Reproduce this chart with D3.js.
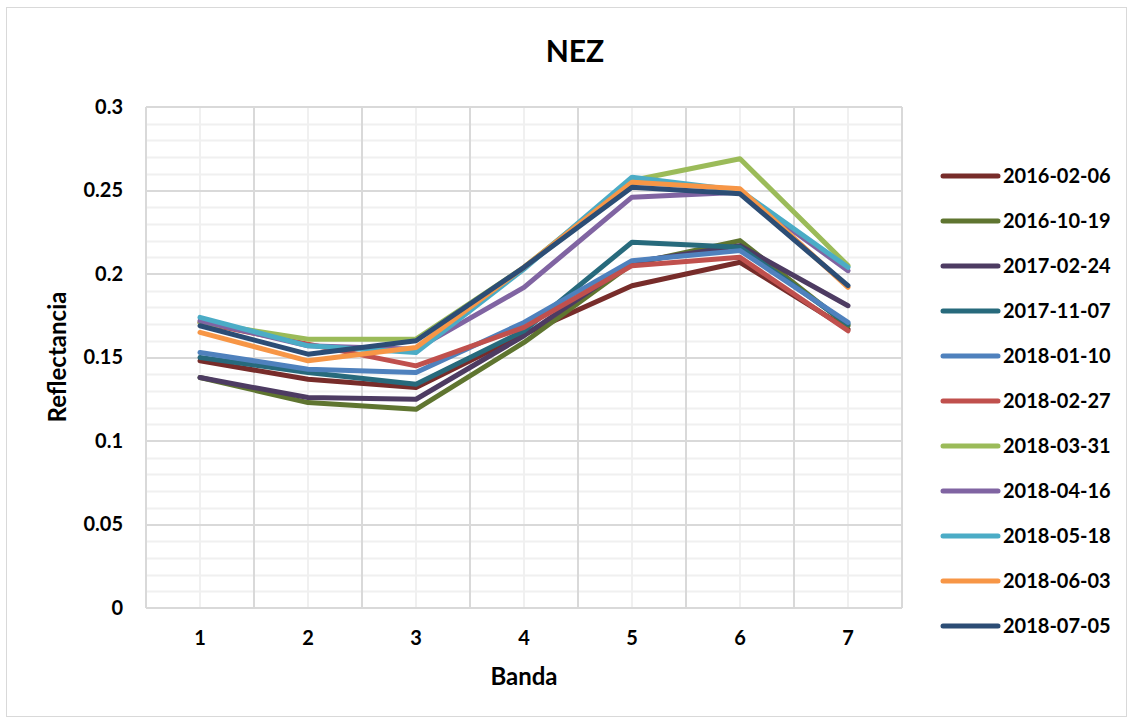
<!DOCTYPE html>
<html>
<head>
<meta charset="utf-8">
<script src="https://cdn.jsdelivr.net/npm/d3@7"></script>
<style>
  html, body { margin: 0; padding: 0; background: #fff; }
  svg { display: block; font-family: Lato, "Open Sans", sans-serif; }
</style>
</head>
<body>
<svg id="chart" width="1133" height="722"></svg>
<script>
// Spectral bands (x categories)
const bands = [1, 2, 3, 4, 5, 6, 7];

// Acquisition dates (one series per date)
const dates = ["2016-02-06", "2016-10-19", "2017-02-24", "2017-11-07", "2018-01-10",
               "2018-02-27", "2018-03-31", "2018-04-16", "2018-05-18", "2018-06-03", "2018-07-05"];

// Reflectance per band for each date
const r20160206 = [0.148, 0.137, 0.132, 0.164, 0.193, 0.207, 0.167];
const r20161019 = [0.138, 0.123, 0.119, 0.159, 0.206, 0.220, 0.169];
const r20170224 = [0.138, 0.126, 0.125, 0.163, 0.207, 0.217, 0.181];
const r20171107 = [0.150, 0.141, 0.134, 0.166, 0.219, 0.216, 0.170];
const r20180110 = [0.153, 0.143, 0.141, 0.171, 0.208, 0.214, 0.171];
const r20180227 = [0.171, 0.158, 0.145, 0.168, 0.205, 0.210, 0.166];
const r20180331 = [0.171, 0.161, 0.161, 0.204, 0.256, 0.269, 0.205];
const r20180416 = [0.172, 0.157, 0.155, 0.192, 0.246, 0.249, 0.202];
const r20180518 = [0.174, 0.157, 0.153, 0.203, 0.258, 0.250, 0.204];
const r20180603 = [0.165, 0.148, 0.156, 0.204, 0.255, 0.251, 0.192];
const r20180705 = [0.169, 0.152, 0.160, 0.204, 0.252, 0.248, 0.193];

const seriesValues = [r20160206, r20161019, r20170224, r20171107, r20180110,
                      r20180227, r20180331, r20180416, r20180518, r20180603, r20180705];

const seriesColors = ["#772c2a", "#5f7530", "#4d3b62", "#276a7c", "#4f81bd",
                      "#c0504d", "#9bbb59", "#8064a2", "#4bacc6", "#f79646", "#2c4d75"];

const yTicks = [0, 0.05, 0.1, 0.15, 0.2, 0.25, 0.3];

const svg = d3.select("#chart");

// Outer chart frame
svg.append("rect")
  .attr("x", 6.5).attr("y", 7.5).attr("width", 1120).attr("height", 709)
  .attr("fill", "#fff").attr("stroke", "#d9d9d9").attr("stroke-width", 1);

const plot = { left: 146, right: 902, top: 107, bottom: 608 };

const x = d3.scaleBand().domain(bands).range([plot.left, plot.right]).padding(0);
const y = d3.scaleLinear().domain([0, 0.3]).range([plot.bottom, plot.top]);
const xc = b => x(b) + x.bandwidth() / 2;

const grid = svg.append("g");

// Minor horizontal gridlines (every 0.01)
grid.selectAll("line.hmin")
  .data(d3.range(1, 30).filter(i => i % 5 !== 0).map(i => i / 100))
  .join("line")
  .attr("x1", plot.left).attr("x2", plot.right)
  .attr("y1", d => Math.round(y(d)) + 0.5).attr("y2", d => Math.round(y(d)) + 0.5)
  .attr("stroke", "#f0f0f0").attr("stroke-width", 2);

// Minor vertical gridlines at category centres
grid.selectAll("line.vmin")
  .data(bands)
  .join("line")
  .attr("x1", d => Math.round(xc(d))).attr("x2", d => Math.round(xc(d)))
  .attr("y1", plot.top).attr("y2", plot.bottom)
  .attr("stroke", "#f0f0f0").attr("stroke-width", 2);

// Major horizontal gridlines
grid.selectAll("line.hmaj")
  .data(yTicks.slice(1))
  .join("line")
  .attr("x1", plot.left).attr("x2", plot.right)
  .attr("y1", d => Math.round(y(d))).attr("y2", d => Math.round(y(d)))
  .attr("stroke", "#d9d9d9").attr("stroke-width", 2);

// Major vertical gridlines at category boundaries
grid.selectAll("line.vmaj")
  .data(bands.slice(1).concat(["end"]))
  .join("line")
  .attr("x1", d => d === "end" ? plot.right : Math.round(x(d)))
  .attr("x2", d => d === "end" ? plot.right : Math.round(x(d)))
  .attr("y1", plot.top).attr("y2", plot.bottom)
  .attr("stroke", "#d9d9d9").attr("stroke-width", 2);

// Axis lines
svg.append("line")
  .attr("x1", plot.left).attr("x2", plot.left)
  .attr("y1", plot.top).attr("y2", plot.bottom)
  .attr("stroke", "#d9d9d9").attr("stroke-width", 2);
svg.append("line")
  .attr("x1", plot.left).attr("x2", plot.right)
  .attr("y1", plot.bottom).attr("y2", plot.bottom)
  .attr("stroke", "#d9d9d9").attr("stroke-width", 2);

// Y axis labels
const yAxis = svg.append("g")
  .attr("transform", `translate(${plot.left},0)`)
  .call(d3.axisLeft(y).tickValues(yTicks).tickSize(0).tickPadding(23)
        .tickFormat(d => d === 0 ? "0" : String(+d.toFixed(2))));
yAxis.select(".domain").remove();
yAxis.selectAll("text")
  .attr("font-size", 20).attr("font-weight", "bold").attr("fill", "#000")
  .attr("font-family", "Lato, sans-serif");

// X axis labels
const xAxis = svg.append("g")
  .attr("transform", `translate(0,${plot.bottom})`)
  .call(d3.axisBottom(x).tickSize(0).tickPadding(23));
xAxis.select(".domain").remove();
xAxis.selectAll("text")
  .attr("font-size", 20).attr("font-weight", "bold").attr("fill", "#000")
  .attr("font-family", "Lato, sans-serif");

// Series lines
const line = d3.line().x((d, i) => xc(bands[i])).y(d => y(d));
svg.append("g").selectAll("path")
  .data(seriesValues)
  .join("path")
  .attr("d", d => line(d))
  .attr("fill", "none")
  .attr("stroke", (d, i) => seriesColors[i])
  .attr("stroke-width", 5)
  .attr("stroke-linejoin", "round")
  .attr("stroke-linecap", "round");

// Title
svg.append("text")
  .attr("x", 575).attr("y", 62)
  .attr("text-anchor", "middle")
  .attr("font-size", 30).attr("font-weight", "bold")
  .text("NEZ");

// Axis titles
svg.append("text")
  .attr("x", 524).attr("y", 685)
  .attr("text-anchor", "middle")
  .attr("font-size", 24).attr("font-weight", "bold")
  .text("Banda");

svg.append("text")
  .attr("transform", "translate(66,357) rotate(-90)")
  .attr("text-anchor", "middle")
  .attr("font-size", 24).attr("font-weight", "bold")
  .text("Reflectancia");

// Legend
const legend = svg.append("g");
const rows = legend.selectAll("g")
  .data(dates)
  .join("g")
  .attr("transform", (d, i) => `translate(943,${176 + i * 45})`);
rows.append("line")
  .attr("x1", 0).attr("x2", 55).attr("y1", 0).attr("y2", 0)
  .attr("stroke", (d, i) => seriesColors[i])
  .attr("stroke-width", 5).attr("stroke-linecap", "round");
rows.append("text")
  .attr("x", 60).attr("y", 0).attr("dy", "0.35em")
  .attr("font-size", 20).attr("font-weight", "bold")
  .text(d => d);
</script>
</body>
</html>
